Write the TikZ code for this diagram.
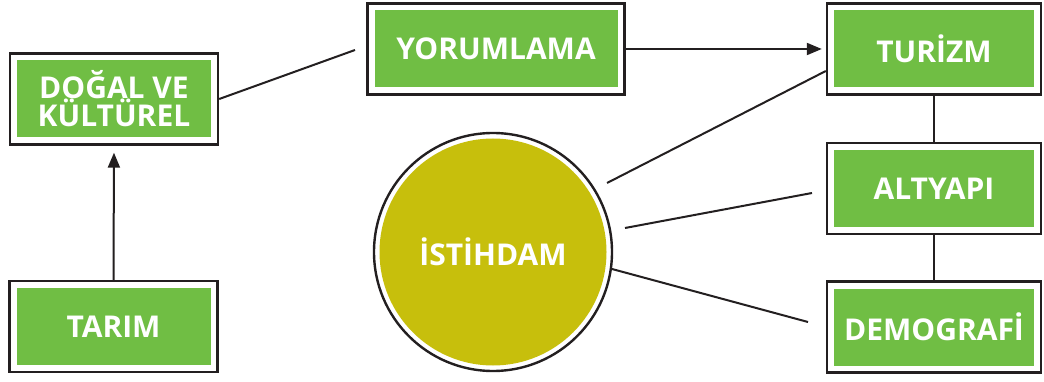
\documentclass[tikz,border=0pt]{standalone}
\usepackage{fontspec}
\setmainfont{Open Sans}
\usetikzlibrary{arrows.meta}
\definecolor{boxgreen}{RGB}{112,190,68}
\definecolor{olive}{RGB}{199,191,12}
\definecolor{ink}{RGB}{35,31,32}
\tikzset{
  gbox/.style={draw=ink, line width=2.4pt, fill=white, minimum width=#1, minimum height=91pt,
    inner sep=0pt, align=center, text=white, font=\fontsize{30}{28}\selectfont\bfseries,
    path picture={\fill[boxgreen] ([shift={(7pt,-7pt)}]path picture bounding box.north west)
      rectangle ([shift={(-7pt,7pt)}]path picture bounding box.south east);}},
  gbox/.default=214pt,
  ring/.style={circle, draw=ink, line width=2.4pt, fill=white, minimum size=238pt, inner sep=0pt,
    text=white, font=\fontsize{30}{28}\selectfont\bfseries,
    path picture={\fill[olive] (path picture bounding box.center) circle (113.5pt);}},
  link/.style={draw=ink, line width=2pt},
  arr/.style={link, -{Triangle[length=15pt,width=12pt]}}
}
\begin{document}
\begin{tikzpicture}[x=1pt,y=-1pt]
\useasboundingbox[fill=white] (0,0) rectangle (1044,382);
\node[gbox=208pt] (dogal) at (114,99) {DOĞAL VE\\KÜLTÜREL};
\node[gbox=208pt] (tarim) at (113.5,326.5) {TARIM};
\node[gbox=257pt] (yorum) at (496,49) {YORUMLAMA};
\node[gbox] (turizm) at (934,49) {TURİZM};
\node[gbox] (altyapi) at (934,188.5) {ALTYAPI};
\node[gbox] (demo) at (934,327) {DEMOGRAFİ};
\node[ring] (ist) at (493,252) {İSTİHDAM};
\coordinate (y0) at (355,50);
\coordinate (t0) at (607,183);
\coordinate (a0) at (625,228);
\coordinate (a1) at (812,193);
\coordinate (d0) at (612,269);
\coordinate (d1) at (808,322);
\draw[link] (dogal.east) -- (y0);
\draw[arr, shorten >=4pt] (yorum.east) -- (turizm.west);
\draw[arr, shorten >=7pt] (tarim.north) -- (dogal.south);
\draw[link] (t0) -- ([yshift=-22pt]turizm.west);
\draw[link] (a0) -- (a1);
\draw[link] (d0) -- (d1);
\draw[link] (turizm.south) -- (altyapi.north);
\draw[link] (altyapi.south) -- (demo.north);
\end{tikzpicture}
\end{document}
